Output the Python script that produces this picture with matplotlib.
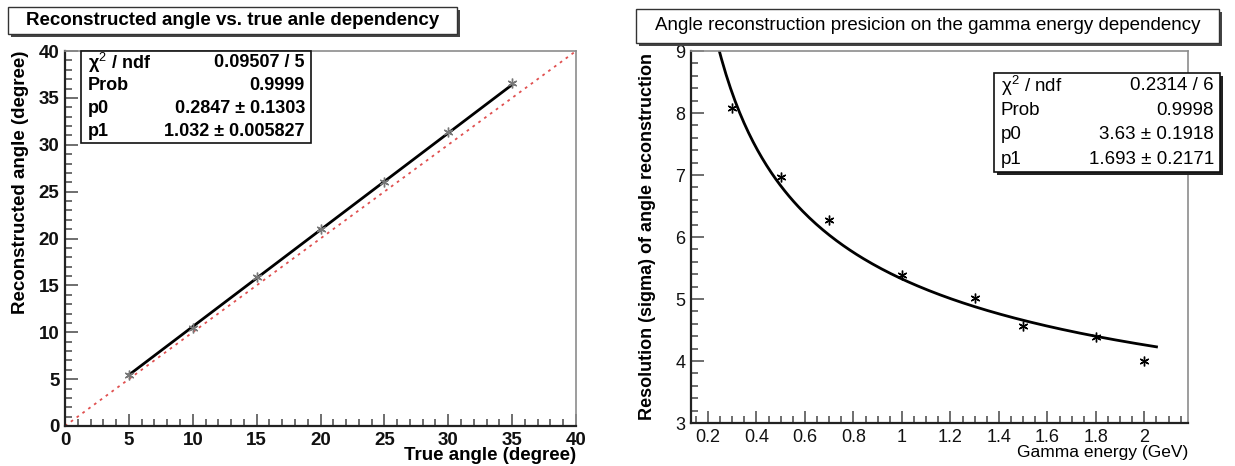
import numpy as np
import matplotlib.pyplot as plt
from matplotlib.patches import Rectangle
from matplotlib.ticker import MultipleLocator

# left panel: reconstructed vs true angle
true_angle = [5, 10, 15, 20, 25, 30, 35]
reco_angle = [5.4, 10.5, 15.9, 21.0, 26.0, 31.4, 36.6]
fit_left = {'p0': 0.2847, 'p1': 1.032}
stats_left = [('χ$^2$ / ndf', '0.09507 / 5'), ('Prob', '0.9999'),
              ('p0', '0.2847 ± 0.1303'), ('p1', '1.032 ± 0.005827')]

# right panel: resolution vs gamma energy
energy = [0.3, 0.5, 0.7, 1.0, 1.3, 1.5, 1.8, 2.0]
sigma = [8.08, 6.97, 6.27, 5.38, 5.02, 4.57, 4.38, 4.0]
fit_right = {'p0': 3.63, 'p1': 1.693}
stats_right = [('χ$^2$ / ndf', '0.2314 / 6'), ('Prob', '0.9998'),
               ('p0', '3.63 ± 0.1918'), ('p1', '1.693 ± 0.2171')]

W, H = 1235, 466
plt.rcParams['font.family'] = ['Liberation Sans', 'DejaVu Sans']
plt.rcParams['mathtext.fontset'] = 'custom'
plt.rcParams['mathtext.rm'] = 'Liberation Sans'
plt.rcParams['mathtext.bf'] = 'Liberation Sans:bold'
fig = plt.figure(figsize=(W / 100, H / 100), dpi=100)

STAR = (6, 2, 0)  # asterisk, like ROOT marker 3


def box(x0, y0, x1, y1):
    # pixel box -> figure fraction [l, b, w, h]
    return [x0 / W, 1 - y1 / H, (x1 - x0) / W, (y1 - y0) / H]


def fx(x):
    return x / W


def fy(y):
    return 1 - y / H


def root_frame(ax, weight, size):
    ax.spines['left'].set_color('#222222')
    ax.spines['bottom'].set_color('#222222')
    ax.spines['left'].set_linewidth(1.6)
    ax.spines['bottom'].set_linewidth(1.6)
    ax.spines['top'].set_color('#8c8c8c')
    ax.spines['right'].set_color('#8c8c8c')
    ax.spines['top'].set_linewidth(1.2)
    ax.spines['right'].set_linewidth(1.2)
    ax.tick_params(which='both', direction='in', top=False, right=False,
                   colors='#555555', labelcolor='#111111', width=1.2)
    ax.tick_params(which='major', length=9, labelsize=size, pad=4)
    ax.tick_params(which='minor', length=5)
    for lab in ax.get_xticklabels() + ax.get_yticklabels():
        lab.set_fontweight(weight)


def stats_box(x0, y0, x1, y1, rows, weight, size, shadow):
    if shadow:
        fig.patches.append(Rectangle((fx(x0 + 3), fy(y1 + 3)), (x1 - x0) / W, (y1 - y0) / H,
                                     transform=fig.transFigure, facecolor='#222222',
                                     edgecolor='none', zorder=5))
    fig.patches.append(Rectangle((fx(x0), fy(y1)), (x1 - x0) / W, (y1 - y0) / H,
                                 transform=fig.transFigure, facecolor='white',
                                 edgecolor='#111111', lw=1.2, zorder=6))
    rh = (y1 - y0) / len(rows)
    for i, (k, v) in enumerate(rows):
        yc = y0 + rh * (i + 0.5)
        fig.text(fx(x0 + 7), fy(yc), k, ha='left', va='center', fontsize=size,
                 fontweight=weight, zorder=7)
        fig.text(fx(x1 - 6), fy(yc), v, ha='right', va='center', fontsize=size,
                 fontweight=weight, zorder=7)


def title_box(x0, y0, x1, y1, text, weight, size):
    fig.patches.append(Rectangle((fx(x0 + 3), fy(y1 + 3)), (x1 - x0) / W, (y1 - y0) / H,
                                 transform=fig.transFigure, facecolor='#444444',
                                 edgecolor='none', zorder=5))
    fig.patches.append(Rectangle((fx(x0), fy(y1)), (x1 - x0) / W, (y1 - y0) / H,
                                 transform=fig.transFigure, facecolor='white',
                                 edgecolor='#333333', lw=1.0, zorder=6))
    fig.text(fx((x0 + x1) / 2), fy((y0 + y1) / 2), text, ha='center', va='center',
             fontsize=size, fontweight=weight, zorder=7)


# ---- left panel
ax1 = fig.add_axes(box(65, 51, 576, 426))
ax1.set_xlim(0, 40)
ax1.set_ylim(0, 40)
ax1.xaxis.set_major_locator(MultipleLocator(5))
ax1.xaxis.set_minor_locator(MultipleLocator(1))
ax1.yaxis.set_major_locator(MultipleLocator(5))
ax1.yaxis.set_minor_locator(MultipleLocator(1))
ax1.plot([0, 40], [0, 40], ls=(0, (1.5, 2.5)), color='#e05050', lw=1.3)
xl = np.array([true_angle[0], true_angle[-1]])
ax1.plot(xl, fit_left['p0'] + fit_left['p1'] * xl, color='black', lw=2)
ax1.plot(true_angle, reco_angle, ls='none', marker=STAR, ms=7, mew=1,
         color='#777777')
root_frame(ax1, 'bold', 13.5)
fig.text(fx(21), fy(51), 'Reconstructed angle (degree)', rotation=90, ha='center',
         va='top', fontsize=13.5, fontweight='bold')
fig.text(fx(576), fy(455), 'True angle (degree)', ha='right', va='center',
         fontsize=13.5, fontweight='bold')
stats_box(81, 51, 311, 143, stats_left, 'bold', 13, False)
title_box(8, 7, 457, 34, 'Reconstructed angle vs. true anle dependency', 'bold', 13.5)

# ---- right panel
ax2 = fig.add_axes(box(691, 51, 1188, 423))
ax2.set_xlim(0.13, 2.18)
ax2.set_ylim(3, 9)
ax2.xaxis.set_major_locator(MultipleLocator(0.2))
ax2.xaxis.set_minor_locator(MultipleLocator(0.05))
ax2.yaxis.set_major_locator(MultipleLocator(1))
ax2.yaxis.set_minor_locator(MultipleLocator(0.2))
ax2.xaxis.set_major_formatter(plt.FuncFormatter(lambda v, p: f'{v:g}'))
xr = np.linspace(0.2, 2.05, 200)
ax2.plot(xr, fit_right['p0'] / np.sqrt(xr) + fit_right['p1'], color='black', lw=2)
ax2.plot(energy, sigma, ls='none', marker=STAR, ms=7, mew=1, color='black')
root_frame(ax2, 'normal', 13)
fig.text(fx(647), fy(237), 'Resolution (sigma) of angle reconstruction', rotation=90,
         ha='center', va='center', fontsize=13, fontweight='bold')
fig.text(fx(1188), fy(453), 'Gamma energy (GeV)', ha='right', va='center',
         fontsize=12.5)
stats_box(994, 73, 1220, 172, stats_right, 'normal', 13.5, True)
title_box(636, 9, 1219, 43,
          'Angle reconstruction presicion on the gamma energy dependency', 'normal', 13.5)

fig.savefig('out.png', dpi=100)
